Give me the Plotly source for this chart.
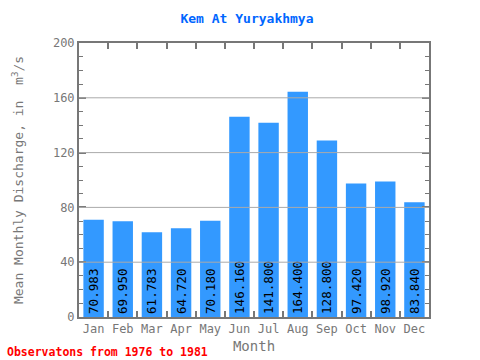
import plotly.graph_objects as go

months = ["Jan", "Feb", "Mar", "Apr", "May", "Jun", "Jul", "Aug", "Sep", "Oct", "Nov", "Dec"]
discharge = [70.983, 69.950, 61.783, 64.720, 70.180, 146.160, 141.800, 164.400, 128.800, 97.420, 98.920, 83.840]
labels = [f"{v:.3f}" for v in discharge]
yticks = [0, 40, 80, 120, 160, 200]

FONT = "DejaVu Sans Mono"
GRAY = "#777777"

fig = go.Figure()
fig.add_trace(go.Bar(
    x=months, y=discharge, text=labels,
    textposition="inside", insidetextanchor="start", textangle=-90,
    textfont=dict(family=FONT, size=14, color="black"),
    marker=dict(color="#3399ff", line=dict(width=0)),
    width=0.7, cliponaxis=False, hoverinfo="skip",
))

for v in yticks[1:-1]:
    fig.add_shape(type="line", xref="paper", x0=0, x1=1, yref="y", y0=v, y1=v,
                  line=dict(color="#aaaaaa", width=1), layer="above")

fig.update_layout(
    width=480, height=360,
    margin=dict(l=79, r=51, t=43, b=43, autoexpand=False),
    paper_bgcolor="white", plot_bgcolor="white",
    title=dict(text="<b>Kem At Yuryakhmya</b>", x=247 / 480, xref="container", xanchor="center",
               y=1 - 18 / 360, yref="container", yanchor="middle",
               font=dict(family=FONT, size=13, color="#0066ff")),
    showlegend=False,
    annotations=[dict(text="<b>Observatons from 1976 to 1981</b>", xref="paper", yref="paper",
                      x=-74 / 350, y=-35 / 274, xanchor="left", yanchor="middle", showarrow=False,
                      font=dict(family=FONT, size=11.5, color="#ff0000"))],
)
fig.update_xaxes(
    showline=True, linecolor=GRAY, linewidth=2, mirror="allticks",
    ticks="inside", ticklen=6, tickcolor=GRAY, tickwidth=2, tickson="boundaries",
    tickangle=0, automargin=False,
    tickfont=dict(family=FONT, size=12, color=GRAY),
    title=dict(text="Month", font=dict(family=FONT, size=14, color=GRAY), standoff=6),
    showgrid=False,
)
fig.update_yaxes(
    range=[0, 200], tickvals=yticks, automargin=False,
    showline=True, linecolor=GRAY, linewidth=2, mirror="allticks",
    ticks="inside", ticklen=7, tickcolor=GRAY, tickwidth=2,
    minor=dict(dtick=10, ticks="inside", ticklen=4, tickcolor=GRAY, tickwidth=1),
    tickfont=dict(family=FONT, size=12, color=GRAY),
    title=dict(text="Mean Monthly Discharge, in  m<sup>3</sup>/s", font=dict(family=FONT, size=13, color=GRAY), standoff=26),
    showgrid=False, zeroline=False,
)

fig.write_html("out.html", config={"displayModeBar": False},
               post_script="document.body.style.margin='0';")
